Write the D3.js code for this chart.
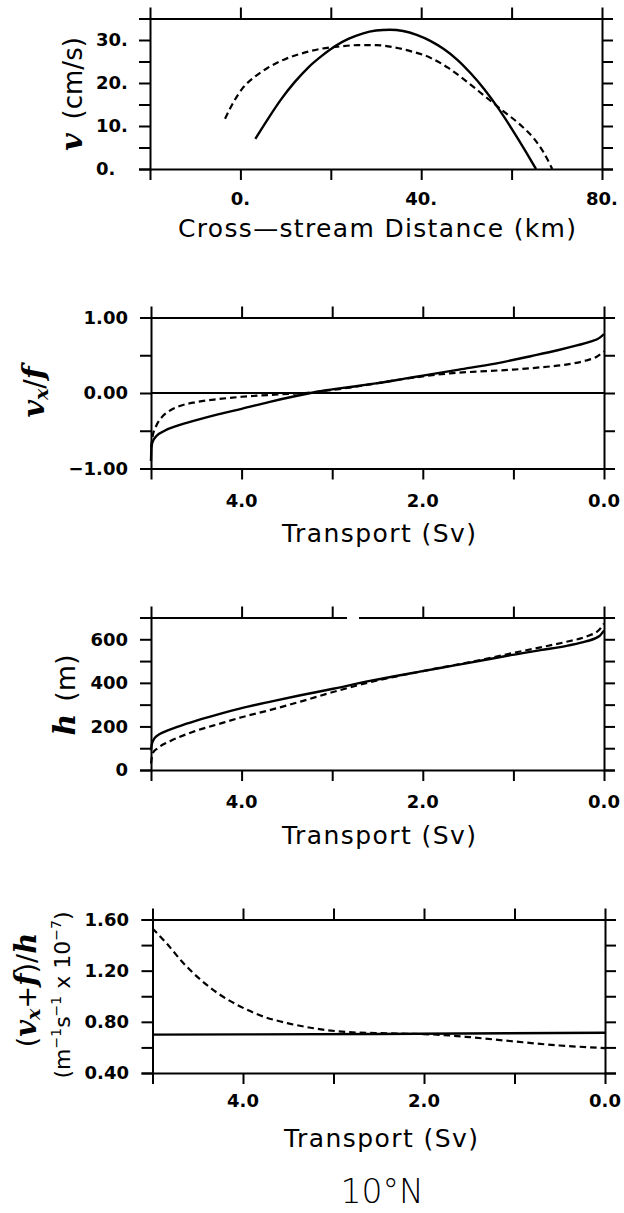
<!DOCTYPE html>
<html>
<head>
<meta charset="utf-8">
<script src="https://cdn.jsdelivr.net/npm/d3@7"></script>
<style>
  body { margin: 0; background: #fff; }
  svg { display: block; }
  text { font-family: 'DejaVu Sans', sans-serif; fill: #000; }
  .tick-label { font-size: 18px; font-weight: bold; }
  .axis-title { font-size: 25px; }
  .sym { font-family: 'DejaVu Serif', serif; font-style: italic; font-weight: bold; }
</style>
</head>
<body>
<svg id="chart" width="624" height="1213"></svg>
<script>
// panel 1: v (cm/s) against cross-stream distance (km)
const velSolid = [[3.3, 7], [6, 11.5], [9, 16.2], [12, 20.2], [15, 23.6], [18, 26.3], [21, 28.6], [24, 30.3], [27, 31.5], [30, 32.2], [33, 32.4], [36, 32.1], [39, 31.2], [42, 29.8], [45, 27.9], [48, 25.4], [51, 22.2], [54, 18.5], [57, 14.2], [60, 9.4], [63, 4.3], [65.4, 0]]
const velDashed = [[-3.4, 11.7], [-1.5, 15.6], [0.5, 18.8], [3, 21.3], [6, 23.5], [10, 25.6], [14, 27], [18, 28], [22, 28.5], [26, 28.8], [30, 28.8], [34, 28.3], [38, 27.3], [42, 25.9], [46, 23.5], [50, 20.4], [54, 17], [58, 13.6], [62, 10.2], [65, 7], [67, 4], [69, 0]]
const distTicks = [0, 20, 40, 60]
const distLabels = [0, 40, 80]
const velTicks = [0, 5, 10, 15, 20, 25, 30]
const velLabels = [0, 10, 20, 30]

// panel 2: v_x / f against transport (Sv)
const vortSolid = [[5.0, -0.9], [4.995, -0.72], [4.98, -0.64], [4.94, -0.57], [4.85, -0.5], [4.7, -0.43], [4.5, -0.36], [4.25, -0.28], [4.0, -0.21], [3.7, -0.12], [3.4, -0.04], [3.1, 0.03], [2.8, 0.08], [2.5, 0.13], [2.2, 0.19], [2.0, 0.23], [1.6, 0.31], [1.2, 0.39], [0.8, 0.49], [0.5, 0.57], [0.3, 0.63], [0.15, 0.68], [0.05, 0.73], [0, 0.78]]
const vortDashed = [[5.0, -0.72], [4.98, -0.56], [4.94, -0.43], [4.88, -0.32], [4.8, -0.24], [4.7, -0.18], [4.5, -0.12], [4.25, -0.08], [4.0, -0.05], [3.6, -0.02], [3.3, 0.0], [3.0, 0.04], [2.6, 0.11], [2.3, 0.17], [2.0, 0.22], [1.7, 0.26], [1.3, 0.29], [1.0, 0.31], [0.7, 0.34], [0.4, 0.38], [0.2, 0.43], [0.08, 0.48], [0, 0.55]]
const vortTicks = [-1, -0.5, 0, 0.5, 1]
const vortLabels = [-1, 0, 1]

// panel 3: h (m) against transport
const depthSolid = [[5.0, 90], [4.99, 120], [4.97, 140], [4.93, 158], [4.86, 174], [4.71, 198], [4.49, 228], [4.23, 259], [4.0, 284], [3.68, 314], [3.35, 343], [2.99, 373], [2.57, 410], [2.0, 454], [1.65, 480], [1.29, 507], [1.03, 527], [0.7, 550], [0.4, 571], [0.2, 590], [0.05, 615], [0.0, 640]]
const depthDashed = [[5.0, 30], [4.99, 60], [4.98, 78], [4.93, 99], [4.78, 134], [4.53, 176], [4.23, 214], [4.0, 242], [3.68, 276], [3.35, 314], [2.99, 358], [2.57, 404], [2.0, 454], [1.65, 482], [1.29, 511], [1.03, 535], [0.7, 563], [0.4, 590], [0.2, 612], [0.05, 645], [0.0, 672]]
const depthTicks = [0, 100, 200, 300, 400, 500, 600, 700]
const depthLabels = [0, 200, 400, 600]

// panel 4: (v_x + f) / h against transport
const pvSolid = [[5.0, 0.70], [2.5, 0.705], [0.0, 0.715]]
const pvDashed = [[5.0, 1.53], [4.84, 1.41], [4.66, 1.26], [4.47, 1.13], [4.25, 1.01], [4.03, 0.92], [3.77, 0.84], [3.51, 0.79], [3.22, 0.75], [2.85, 0.72], [2.41, 0.71], [1.86, 0.70], [1.49, 0.68], [1.05, 0.65], [0.5, 0.615], [0.0, 0.595]]
const pvTicks = [0.4, 0.6, 0.8, 1.0, 1.2, 1.4, 1.6]
const pvLabels = [0.4, 0.8, 1.2, 1.6]

const transportTicks = [4, 3, 2, 1]
const transportLabels = [4, 2, 0]

const svg = d3.select('#chart')
const TICK = 11

// four outward-ticked axes make the box
function frame (x, y, xTicks, yTicks) {
  const g = svg.append('g').attr('class', 'frame')
  const [x0, x1] = x.range()
  const [y0, y1] = y.range()

  g.append('g').attr('transform', `translate(0,${y0})`)
    .call(d3.axisBottom(x).tickValues(xTicks).tickSize(TICK).tickSizeOuter(TICK).tickFormat(''))
  g.append('g').attr('transform', `translate(0,${y1})`)
    .call(d3.axisTop(x).tickValues(xTicks).tickSize(TICK).tickSizeOuter(TICK).tickFormat(''))
  g.append('g').attr('transform', `translate(${x0},0)`)
    .call(d3.axisLeft(y).tickValues(yTicks).tickSize(TICK).tickSizeOuter(TICK).tickFormat(''))
  g.append('g').attr('transform', `translate(${x1},0)`)
    .call(d3.axisRight(y).tickValues(yTicks).tickSize(TICK).tickSizeOuter(TICK).tickFormat(''))

  g.selectAll('path.domain, line').attr('stroke', '#000').attr('stroke-width', 2)
  return g
}

function curve (x, y, data, dashed) {
  const line = d3.line()
    .x(d => x(d[0]))
    .y(d => y(d[1]))
    .curve(d3.curveMonotoneX)

  svg.append('path')
    .datum(data)
    .attr('d', line)
    .attr('fill', 'none')
    .attr('stroke', '#000')
    .attr('stroke-width', dashed ? 2.2 : 2.4)
    .attr('stroke-dasharray', dashed ? '6.5,4' : null)
}

function xLabels (x, values, baseline, fmt) {
  svg.append('g').selectAll('text').data(values).enter()
    .append('text')
    .attr('class', 'tick-label')
    .attr('x', d => x(d))
    .attr('y', baseline)
    .attr('text-anchor', 'middle')
    .text(fmt)
}

function yLabels (y, values, xPos, anchor, fmt) {
  svg.append('g').selectAll('text').data(values).enter()
    .append('text')
    .attr('class', 'tick-label')
    .attr('x', xPos)
    .attr('y', d => y(d))
    .attr('dy', '0.36em')
    .attr('text-anchor', anchor)
    .text(fmt)
}

function xTitle (text, cx, baseline, length) {
  const t = svg.append('text')
    .attr('class', 'axis-title')
    .attr('x', cx)
    .attr('y', baseline)
    .attr('text-anchor', 'middle')
    .text(text)
  if (length) t.attr('textLength', length)
}

function yTitle (bx, cy) {
  return svg.append('text')
    .attr('transform', `translate(${bx},${cy}) rotate(-90)`)
    .attr('text-anchor', 'middle')
}

// ---- panel 1 ----
const xDist = d3.scaleLinear().domain([-20, 80]).range([150, 602])
const yVel = d3.scaleLinear().domain([0, 35]).range([169, 18.5])

frame(xDist, yVel, distTicks, velTicks)
curve(xDist, yVel, velSolid, false)
curve(xDist, yVel, velDashed, true)
xLabels(xDist, distLabels, 205, d => d + '.')
yLabels(yVel, velLabels, 96, 'start', d => d + '.')
xTitle('Cross\u2014stream Distance (km)', 377, 237, 398)

const t1 = yTitle(82, 94)
t1.append('tspan').attr('class', 'sym').style('font-size', '30px').text('v')
t1.append('tspan').attr('dx', 14).style('font-size', '26px').text('(cm/s)')

// ---- panel 2 ----
const xTrans = d3.scaleLinear().domain([5, 0]).range([151, 604])
const yVort = d3.scaleLinear().domain([-1, 1]).range([468.5, 317.5])

frame(xTrans, yVort, transportTicks, vortTicks)
svg.append('line')
  .attr('x1', xTrans(5)).attr('x2', xTrans(0))
  .attr('y1', yVort(0)).attr('y2', yVort(0))
  .attr('stroke', '#000').attr('stroke-width', 2)
curve(xTrans, yVort, vortSolid, false)
curve(xTrans, yVort, vortDashed, true)
xLabels(xTrans, transportLabels, 506.5, d3.format('.1f'))
yLabels(yVort, vortLabels, 128, 'end', d3.format('.2f'))
xTitle('Transport (Sv)', 379, 542, 194)

const t2 = yTitle(44, 392)
t2.append('tspan').attr('class', 'sym').style('font-size', '30px').text('v')
t2.append('tspan').attr('class', 'sym').attr('dy', 4).style('font-size', '19px').text('x')
t2.append('tspan').attr('dy', -4).style('font-size', '28px').text('/')
t2.append('tspan').attr('class', 'sym').style('font-size', '30px').text('f')

// ---- panel 3 ----
const yDepth = d3.scaleLinear().domain([0, 700]).range([770, 617.5])

frame(xTrans, yDepth, transportTicks, depthTicks)
// small break in the top border of the scan
svg.append('rect')
  .attr('x', 347).attr('y', yDepth(700) - 1.5)
  .attr('width', 12).attr('height', 3)
  .attr('fill', '#fff')
curve(xTrans, yDepth, depthSolid, false)
curve(xTrans, yDepth, depthDashed, true)
xLabels(xTrans, transportLabels, 808, d3.format('.1f'))
yLabels(yDepth, depthLabels, 128, 'end', d => d)
xTitle('Transport (Sv)', 379, 844, 194)

const t3 = yTitle(75, 695)
t3.append('tspan').attr('class', 'sym').style('font-size', '30px').text('h')
t3.append('tspan').attr('dx', 12).style('font-size', '27px').text('(m)')

// ---- panel 4 ----
const xTrans4 = d3.scaleLinear().domain([5, 0]).range([152.5, 605])
const yPv = d3.scaleLinear().domain([0.4, 1.6]).range([1073, 919.5])

frame(xTrans4, yPv, transportTicks, pvTicks)
curve(xTrans4, yPv, pvSolid, false)
curve(xTrans4, yPv, pvDashed, true)
xLabels(xTrans4, transportLabels, 1106.5, d3.format('.1f'))
yLabels(yPv, pvLabels, 129, 'end', d3.format('.2f'))
xTitle('Transport (Sv)', 381, 1146.5, 194)

const t4 = yTitle(36, 990)
t4.append('tspan').style('font-size', '27px').text('(')
t4.append('tspan').attr('class', 'sym').style('font-size', '29px').text('v')
t4.append('tspan').attr('class', 'sym').attr('dy', 4).style('font-size', '19px').text('x')
t4.append('tspan').attr('dy', -4).style('font-size', '27px').text('+')
t4.append('tspan').attr('class', 'sym').style('font-size', '29px').text('f')
t4.append('tspan').style('font-size', '27px').text(')/')
t4.append('tspan').attr('class', 'sym').style('font-size', '29px').text('h')

const t5 = yTitle(70, 995).style('font-size', '22px')
t5.append('tspan').text('(m')
t5.append('tspan').attr('dy', -9).style('font-size', '14px').text('\u22121')
t5.append('tspan').attr('dy', 9).text('s')
t5.append('tspan').attr('dy', -9).style('font-size', '14px').text('\u22121')
t5.append('tspan').attr('dy', 9).text(' x 10')
t5.append('tspan').attr('dy', -9).style('font-size', '14px').text('\u22127')
t5.append('tspan').attr('dy', 9).text(')')

// latitude caption
svg.append('text')
  .attr('x', 382)
  .attr('y', 1203)
  .attr('text-anchor', 'middle')
  .style('font-size', '33px')
  .style('font-weight', 200)
  .text('10\u00b0N')
</script>
</body>
</html>
